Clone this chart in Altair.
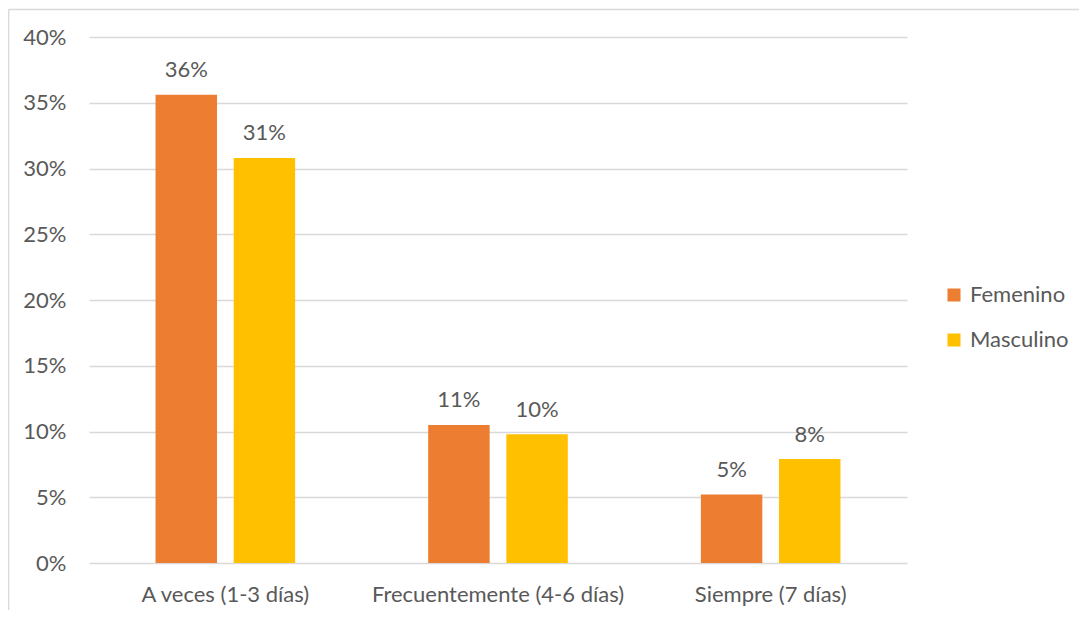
import altair as alt
import pandas as pd

categories = ["A veces (1-3 días)", "Frecuentemente (4-6 días)", "Siempre (7 días)"]
series = ["Femenino", "Masculino"]
femenino = [0.356, 0.105, 0.052]
masculino = [0.308, 0.098, 0.079]
fem_labels = ["36%", "11%", "5%"]
mas_labels = ["31%", "10%", "8%"]
y_ticks = [0, 0.05, 0.10, 0.15, 0.20, 0.25, 0.30, 0.35, 0.40]
colors = ["#ED7D31", "#FFC000"]

rows = []
for i, c in enumerate(categories):
    rows.append({"cat": c, "serie": series[0], "val": femenino[i], "lab": fem_labels[i]})
    rows.append({"cat": c, "serie": series[1], "val": masculino[i], "lab": mas_labels[i]})
df = pd.DataFrame(rows)

FONT = "Lato"
GRAY = "#595959"
W, H = 818, 526
PL, PT, PR, PB = 81, 29, 172, 47

x = alt.X("cat:N", sort=categories, title=None,
          scale=alt.Scale(paddingInner=0.488, paddingOuter=0.244),
          axis=alt.Axis(labelAngle=0, domain=False, ticks=False, labelPadding=21, labelLimit=0,
                        labelFont=FONT, labelFontSize=22, labelColor=GRAY))
xoff = alt.XOffset("serie:N", sort=series, scale=alt.Scale(paddingInner=0.2136, paddingOuter=0))
y = alt.Y("val:Q", title=None,
          scale=alt.Scale(domain=[0, 0.4], nice=False),
          axis=alt.Axis(values=y_ticks, format=".0%", domain=False, ticks=False,
                        labelPadding=23, labelFont=FONT, labelFontSize=22, labelColor=GRAY,
                        grid=True, gridColor="#D9D9D9", gridWidth=1.3))
color = alt.Color("serie:N", sort=series, title=None,
                  scale=alt.Scale(domain=series, range=colors),
                  legend=alt.Legend(orient="none", legendX=854, legendY=247,
                                    symbolType="square", symbolSize=169, symbolStrokeWidth=0,
                                    labelFont=FONT, labelFontSize=22, labelColor=GRAY,
                                    labelOffset=5, rowPadding=23, labelLimit=0))

base = alt.Chart(df)
bars = base.mark_bar(stroke=None).encode(x=x, xOffset=xoff, y=y, color=color)
texts = base.mark_text(baseline="alphabetic", dy=-17.5, font=FONT, fontSize=22, color=GRAY).encode(
    x=x, xOffset=xoff, y=y, text="lab:N")

border_df = pd.DataFrame({"k": [0]})
top_border = alt.Chart(border_df).mark_rule(color="#D9D9D9", strokeWidth=1.3).encode(
    x=alt.value(-PL + 0.5), x2=alt.value(W + PR), y=alt.value(-27.5))
left_border = alt.Chart(border_df).mark_rule(color="#D9D9D9", strokeWidth=1.3).encode(
    x=alt.value(-PL + 0.7), y=alt.value(-27.5), y2=alt.value(H + PB))

chart = alt.layer(bars, texts, top_border, left_border).properties(
    width=W, height=H,
    autosize=alt.AutoSizeParams(type="none"),
    padding={"left": PL, "top": PT, "right": PR, "bottom": PB},
    background="white",
).configure_view(stroke=None)

chart.save("out.html", embed_options={"renderer": "svg", "actions": False})
